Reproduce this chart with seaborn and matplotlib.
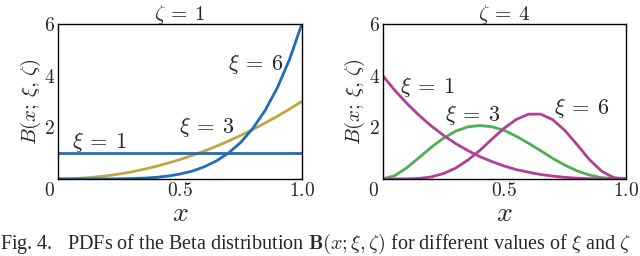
from matplotlib import pyplot as plt
from matplotlib import transforms
import pandas as pd
import seaborn as sns

# values, x from 0 to 1 in steps of 0.05
x_vals = [0.0, 0.05, 0.1, 0.15, 0.2, 0.25, 0.3, 0.35, 0.4, 0.45, 0.5,
          0.55, 0.6, 0.65, 0.7, 0.75, 0.8, 0.85, 0.9, 0.95, 1.0]

# zeta = 1 panel
z1_xi1 = [1.0] * 21
z1_xi3 = [0.0, 0.01, 0.03, 0.07, 0.12, 0.19, 0.27, 0.37, 0.48, 0.61, 0.75,
          0.91, 1.08, 1.27, 1.47, 1.69, 1.92, 2.17, 2.43, 2.71, 3.0]
z1_xi6 = [0.0, 0.0, 0.0, 0.0, 0.002, 0.006, 0.015, 0.03, 0.06, 0.11, 0.19,
          0.30, 0.47, 0.70, 1.01, 1.42, 1.97, 2.66, 3.54, 4.64, 6.0]

# zeta = 4 panel
z4_xi1 = [4.0, 3.43, 2.92, 2.46, 2.05, 1.69, 1.37, 1.10, 0.86, 0.67, 0.5,
          0.36, 0.26, 0.17, 0.11, 0.06, 0.03, 0.01, 0.0, 0.0, 0.0]
z4_xi3 = [0.0, 0.13, 0.44, 0.83, 1.23, 1.58, 1.85, 2.02, 2.07, 2.02, 1.88,
          1.65, 1.38, 1.09, 0.79, 0.53, 0.31, 0.15, 0.05, 0.01, 0.0]
z4_xi6 = [0.0, 0.0, 0.004, 0.02, 0.08, 0.21, 0.42, 0.73, 1.11, 1.55, 1.97,
          2.31, 2.51, 2.51, 2.29, 1.87, 1.32, 0.75, 0.30, 0.05, 0.0]

x_ticks = [0, 0.5, 1.0]
x_ticklabels = ['$0$', '$0.5$', '$1.0$']
y_ticks = [0, 2, 4, 6]
y_ticklabels = ['', '$2$', '$4$', '$6$']

blue = '#1f6db3'
gold = '#c3a445'
green = '#4db04f'
magenta = '#b03f98'

sns.set_style('white')
plt.rcParams['font.family'] = ['DejaVu Serif']
plt.rcParams['mathtext.fontset'] = 'cm'

fig = plt.figure(figsize=(6.4, 2.56), dpi=100)
ax1 = fig.add_axes([0.0906, 0.301, 0.381, 0.605])
ax2 = fig.add_axes([0.598, 0.301, 0.380, 0.605])

lab = 16

# left panel
sns.lineplot(x=x_vals, y=z1_xi3, ax=ax1, color=gold, linewidth=2.0)
sns.lineplot(x=x_vals, y=z1_xi6, ax=ax1, color=blue, linewidth=2.0)
sns.lineplot(x=x_vals, y=z1_xi1, ax=ax1, color=blue, linewidth=2.0)
ax1.text(0.17, 1.45, r'$\xi\:=\:1$', fontsize=lab, ha='center', va='center')
ax1.text(0.61, 2.0, r'$\xi\:=\:3$', fontsize=lab, ha='center', va='center')
ax1.text(0.81, 4.45, r'$\xi\:=\:6$', fontsize=lab, ha='center', va='center')
ax1.set_title(r'$\zeta\:=\:1$', fontsize=15, pad=3)

# right panel
sns.lineplot(x=x_vals, y=z4_xi3, ax=ax2, color=green, linewidth=2.0)
sns.lineplot(x=x_vals, y=z4_xi1, ax=ax2, color=magenta, linewidth=2.0)
sns.lineplot(x=x_vals, y=z4_xi6, ax=ax2, color=magenta, linewidth=2.0)
ax2.text(0.185, 3.56, r'$\xi\:=\:1$', fontsize=lab, ha='center', va='center')
ax2.text(0.37, 2.48, r'$\xi\:=\:3$', fontsize=lab, ha='center', va='center')
ax2.text(0.82, 2.75, r'$\xi\:=\:6$', fontsize=lab, ha='center', va='center')
ax2.set_title(r'$\zeta\:=\:4$', fontsize=15, pad=3)

shift = transforms.ScaledTranslation(-9 / 100, 0, fig.dpi_scale_trans)
for ax in [ax1, ax2]:
    ax.set_xlim(0, 1)
    ax.set_ylim(0, 6)
    ax.set_xticks(x_ticks)
    ax.set_xticklabels(x_ticklabels, fontsize=14)
    ax.set_yticks(y_ticks)
    ax.set_yticklabels(y_ticklabels, fontsize=14)
    ax.tick_params(direction='in', length=3, width=0.6, pad=2)
    # the corner "0" sits left of the spine
    t0 = ax.get_xticklabels()[0]
    t0.set_transform(t0.get_transform() + shift)
    ax.set_xlabel('$x$', fontsize=20, labelpad=0)
    ax.set_ylabel(r'$B(x;\,\xi,\,\zeta)$', fontsize=15, labelpad=1)
    for s in ax.spines.values():
        s.set_color('black')
        s.set_linewidth(1.0)

fig.text(0.0, 0.0, r'Fig. 4.   PDFs of the Beta distribution $\mathbf{B}(x;\xi,\zeta)$ for different values of $\xi$ and $\zeta$',
         fontsize=14.5, ha='left', va='bottom', family=['Liberation Serif'])

fig.savefig('out.png', dpi=100)
